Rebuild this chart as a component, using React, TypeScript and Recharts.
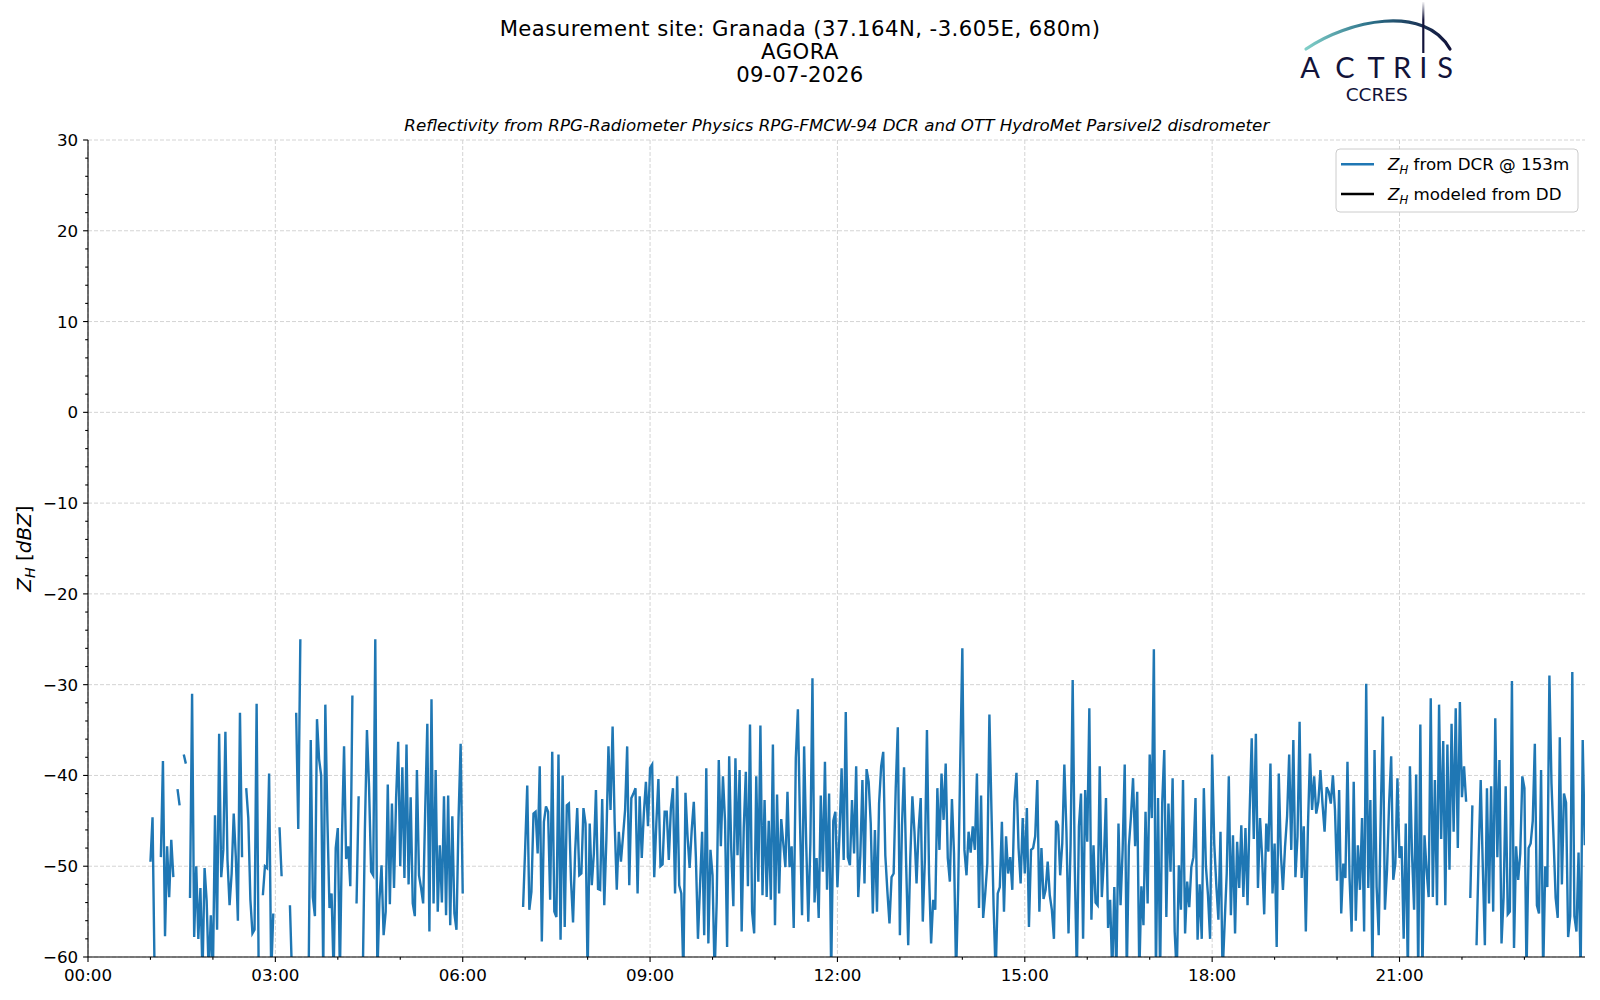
import React from 'react';
import { CartesianGrid, Line, LineChart, XAxis, YAxis } from 'recharts';

// Z_H from the DCR, 2-minute steps, one array per hour (null = no data, -62 = below the axis)
const zh01 = [-49.5, -44.6, -62, null, null, -49, -38.4, -57.7, -47.8, -53.4, -47.1, -51.2, null, -41.5, -43.3, null, -37.7, -38.7, null, -53.5, -31, -57.8, -50, -58, -52.4, -62, -50.2, -53.8, -62, -55.4];
const zh02 = [-62, -44.4, -57, -35.4, -51.2, -48.2, -35.2, -49.3, -54.3, -50.8, -44.2, -49, -56, -33.1, -49, null, -41.4, -44.7, -53.7, -57.4, -57, -32.1, -62, null, -53.2, -50, -50.2, -39.8, -62, -55.2];
const zh03 = [null, null, -45.7, -51.1, null, null, null, -54.3, -62, null, -33.1, -45.9, -25, null, null, null, -62, -36.1, -53.4, -55.5, -33.8, -38.2, -40, -62, -32.2, -44.9, -54.6, -53, -62, -48];
const zh04 = [-45.8, -62, -46.7, -36.8, -49.2, -47.8, -52.2, -31.2, null, -54.1, -42.3, null, -62, -46, -35, -41.2, -50.6, -51, -25, -62, -53.7, -49.9, -57.6, -55, -41, -54.2, -43.1, -52.4, -42.5, -36.3];
const zh05 = [-50, -39.1, -51.3, -36.6, -52, -42.4, -54.1, -55.5, -39.4, -51, -52.4, -54.1, -43.6, -34.3, -57.2, -31.6, -54.1, -39.4, -55, -47.7, -54, -42.3, -55.4, -42.2, -56.5, -44.5, -55.2, -57, -44.7, -36.5];
const zh06 = [-53, null, null, null, null, null, null, null, null, null, null, null, null, null, null, null, null, null, null, null, null, null, null, null, null, null, null, null, null, -54.5];
const zh07 = [-48, -41.1, -54.8, -52.8, -44.2, -44, -48.6, -39, -58.3, -45.1, -43.4, -44, -53.7, -37.4, -55, -55.6, -37.7, -58.1, -40, -56.7, -43.3, -43.1, -51.5, -56.2, -48.4, -43.6, -51, -50.8, -43.6, -45.3];
const zh08 = [-62, -45.3, -52.1, -48.6, -41.6, -52.5, -52.6, -42.6, -54.3, -47.1, -36.8, -43.8, -34.6, -45.3, -52.6, -46.2, -49.5, -46.7, -43.8, -36.8, -52.1, -42.5, -42, -41.4, -53, -42.3, -49.1, -44.2, -40.7, -45.6];
const zh09 = [-39.2, -38.8, -51.2, -45.3, -40.4, -50, -49.8, -44, -44, -49.3, -43.6, -41.4, -53, -40.1, -52.1, -53, -62, -41.9, -46.7, -50.2, -46, -42.9, -49, -58, -52.1, -46.2, -57.6, -39.2, -58.5, -48.2];
const zh10 = [-51, -62, -53.9, -38.3, -47.8, -40.1, -45, -58.9, -37.9, -48.2, -54.4, -38.1, -48.8, -39.4, -57.2, -45.8, -39.6, -52.2, -34.4, -55, -57.4, -40.1, -51.7, -34.5, -53.2, -42.7, -53.4, -45, -53.7, -36.6];
const zh11 = [-56.5, -42.1, -53, -44.8, -47.5, -50.1, -41.8, -50.1, -47.8, -56.8, -38.1, -32.7, -45, -55.4, -36.8, -47.5, -56.1, -47.5, -29.3, -54, -49.1, -55.7, -42.2, -50.6, -38.5, -52.6, -42, -62, -45, -44];
const zh12 = [-52.3, -46.4, -39.2, -49.3, -33, -49, -49.9, -42.7, -48.6, -39, -53.4, -48.8, -40.5, -51.9, -39.3, -40.7, -45.3, -55.2, -46, -55, -43.1, -39, -37.4, -48.8, -52.8, -56.3, -51.2, -50.8, -41.4, -34.7];
const zh13 = [-57.6, -45.6, -39.1, -49.7, -58.7, -49.1, -42.3, -46.2, -51.9, -46, -42.5, -56.1, -49.3, -35, -50.8, -58.5, -53.7, -54.8, -41.4, -48.2, -39.8, -44.9, -38.7, -49.1, -51.7, -42.6, -48.6, -62, -52.4, -38.5];
const zh14 = [-26, -48.2, -51, -46.2, -48.5, -45.6, -48.2, -39.8, -54.6, -42.2, -55.7, -53, -49.7, -33.3, -44, -54.3, -62, -53, -52.3, -45.1, -55, -46.7, -50.8, -49, -52.6, -42.9, -39.7, -48, -51.9, -44.7];
const zh15 = [-50.8, -43.6, -56.7, -48.2, -48, -46.7, -40.5, -55, -48, -53.6, -52.6, -49.5, -53.2, -54.8, -58, -45, -45.5, -51, -47.5, -38.8, -46.2, -57.4, -47.6, -29.5, -50, -62, -45.6, -42, -58, -41.6];
const zh16 = [-47.3, -32.6, -55.9, -47.7, -54, -54.3, -39, -53.4, -49.3, -42.5, -56.8, -53.7, -62, -52.3, -62, -45.3, -54.3, -48.2, -38.8, -62, -47.8, -44.5, -40.3, -47.8, -41.8, -62, -52.2, -56.5, -44, -54.1];
const zh17 = [-37.7, -44.7, -26.1, -62, -42.5, -62, -43.1, -37.2, -55.6, -43.1, -50.6, -40.3, -57.2, -62, -49.9, -54.8, -40.5, -57.4, -51.7, -54.5, -50.1, -49, -42.5, -58.1, -52, -58, -41.4, -50, -53.2, -58];
const zh18 = [-37.7, -47.5, -52.1, -55.9, -46.2, -62, -56.3, -50.8, -40.1, -55.4, -46.6, -57.4, -47.3, -52.4, -45.5, -53.4, -45.8, -54.3, -44, -35.9, -47, -35.4, -52.4, -44.7, -49, -55.3, -45.3, -48.4, -38.7, -53];
const zh19 = [-47.5, -58.9, -39.8, -48.6, -52.6, -47.9, -44.5, -37.7, -48.2, -36.1, -51.2, -46.7, -34.1, -51.3, -45.6, -57.2, -45.8, -37.6, -43.8, -40.1, -44.2, -42.9, -39.4, -43.1, -46.2, -41.3, -41.8, -43.1, -40, -43.8];
const zh20 = [-51.6, -41.6, -55.2, -49.7, -51.3, -38.5, -51.3, -57.2, -40.7, -56, -47.7, -52.6, -44.7, -57.2, -29.9, -52.4, -42.7, -62, -37.2, -52.3, -57.6, -44.2, -33.5, -54.8, -50.4, -43.1, -37.9, -51.5, -49.7, -40.3];
const zh21 = [-49.1, -47.8, -58, -45.3, -62, -39, -48.6, -54.8, -39.9, -62, -34.4, -62, -46.6, -50.4, -53.4, -31.5, -53.4, -40.5, -54.3, -32.2, -47, -36.2, -54.3, -36.6, -50.4, -34.3, -46.2, -32.6, -48, -31.9];
const zh22 = [-42.4, -39, -42.9, null, -53.5, -43.3, null, -58.7, -49, -40.5, -50, -58.7, -41.4, -54.1, -41.2, -55, -33.7, -49, -38.3, -58.5, -53.4, -41.2, -55.3, -55, -29.6, -59, -47.8, -51.5, -48.6, -40.1];
const zh23 = [-41.4, -62, -48, -47.5, -45, -36.5, -54.3, -55.2, -39.4, -62, -50, -52.3, -29, -40.9, -47, -53.5, -55.7, -35.8, -52, -42, -43, -57.8, -55.5, -28.6, -55.5, -57.2, -48.5, -62, -36.1, -47.7];

const hourBlocks: [number, (number | null)[]][] = [
  [1, zh01], [2, zh02], [3, zh03], [4, zh04], [5, zh05], [6, zh06], [7, zh07], [8, zh08],
  [9, zh09], [10, zh10], [11, zh11], [12, zh12], [13, zh13], [14, zh14], [15, zh15], [16, zh16],
  [17, zh17], [18, zh18], [19, zh19], [20, zh20], [21, zh21], [22, zh22], [23, zh23],
];

const hourTicks = [0, 1, 2, 3, 4, 5, 6, 7, 8, 9, 10, 11, 12, 13, 14, 15, 16, 17, 18, 19, 20, 21, 22, 23];
const xMajor = [0, 3, 6, 9, 12, 15, 18, 21];
const yTicks = [
  -60, -58, -56, -54, -52, -50, -48, -46, -44, -42, -40, -38, -36, -34, -32, -30, -28, -26, -24, -22,
  -20, -18, -16, -14, -12, -10, -8, -6, -4, -2, 0, 2, 4, 6, 8, 10, 12, 14, 16, 18, 20, 22, 24, 26, 28, 30,
];
const yMajor = [-60, -50, -40, -30, -20, -10, 0, 10, 20, 30];

const titleLines = ['Measurement site: Granada (37.164N, -3.605E, 680m)', 'AGORA', '09-07-2026'];

const legendItems = [
  { color: '#1f77b4', label: ' from DCR @ 153m' },
  { color: '#000000', label: ' modeled from DD' },
];

const rows = hourBlocks.flatMap(([h, vals]) =>
  vals.map((v, i) => ({ t: h + i / 30, dcr: v }))
);

const FONT = '"DejaVu Sans", sans-serif';
const NAVY = '#12133a';

const XTick = ({ x, y, payload }: any) => {
  const h = payload.value;
  const major = h % 3 === 0;
  return (
    <g>
      <line x1={x} x2={x} y1={y} y2={y + (major ? 4.9 : 2.8)} stroke="#000" strokeWidth={1.1} />
      {major && (
        <text x={x} y={y + 24} textAnchor="middle" fontFamily={FONT} fontSize={16.7} fill="#000">
          {String(h).padStart(2, '0') + ':00'}
        </text>
      )}
    </g>
  );
};

const YTick = ({ x, y, payload }: any) => {
  const v = payload.value;
  const major = v % 10 === 0;
  return (
    <g>
      <line x1={x} x2={x - (major ? 4.9 : 2.8)} y1={y} y2={y} stroke="#000" strokeWidth={1.1} />
      {major && (
        <text x={x - 9.8} y={y + 6} textAnchor="end" fontFamily={FONT} fontSize={16.7} fill="#000">
          {v < 0 ? '\u2212' + Math.abs(v) : String(v)}
        </text>
      )}
    </g>
  );
};

function Overlay() {
  return (
    <svg width={1600} height={1000} style={{ position: 'absolute', left: 0, top: 0, pointerEvents: 'none' }}>
      <defs>
        <linearGradient id="arcGrad" gradientUnits="userSpaceOnUse" x1="1306" y1="0" x2="1450" y2="0">
          <stop offset="0" stopColor="#80cfc8" />
          <stop offset="0.45" stopColor="#2b6f88" />
          <stop offset="1" stopColor={NAVY} />
        </linearGradient>
        <linearGradient id="poleGrad" gradientUnits="userSpaceOnUse" x1="0" y1="2" x2="0" y2="53">
          <stop offset="0" stopColor={NAVY} stopOpacity={0.05} />
          <stop offset="0.35" stopColor={NAVY} stopOpacity={1} />
          <stop offset="1" stopColor={NAVY} stopOpacity={1} />
        </linearGradient>
      </defs>

      <g fontFamily={FONT} fill="#000" textAnchor="middle">
        {titleLines.map((line, i) => (
          <text key={line} x={800} y={35.5 + i * 23} fontSize={21.2} letterSpacing={0.45}>
            {line}
          </text>
        ))}
        <text x={836.8} y={131} fontSize={16.7} fontStyle="italic">
          Reflectivity from RPG-Radiometer Physics RPG-FMCW-94 DCR and OTT HydroMet Parsivel2 disdrometer
        </text>
      </g>

      <text
        transform="translate(31,548.5) rotate(-90)"
        textAnchor="middle"
        fontFamily={FONT}
        fontSize={20}
        fill="#000"
      >
        <tspan fontStyle="italic">Z</tspan>
        <tspan fontStyle="italic" fontSize={14} dy={4}>H</tspan>
        <tspan dy={-4}> [</tspan>
        <tspan fontStyle="italic">dBZ</tspan>
        <tspan>]</tspan>
      </text>

      {/* legend */}
      <rect x={1336} y={149} width={242} height={63} rx={4} fill="#fff" fillOpacity={0.8} stroke="#cccccc" strokeWidth={1} />
      {legendItems.map((item, i) => {
        const cy = 164.3 + i * 29.7;
        return (
          <g key={item.label}>
            <line x1={1341} x2={1374} y1={cy} y2={cy} stroke={item.color} strokeWidth={2.4} />
            <text x={1388} y={cy + 6} fontFamily={FONT} fontSize={16.7} fill="#000">
              <tspan fontStyle="italic">Z</tspan>
              <tspan fontStyle="italic" fontSize={11.7} dy={3.5}>H</tspan>
              <tspan dy={-3.5}>{item.label}</tspan>
            </text>
          </g>
        );
      })}

      {/* ACTRIS CCRES logo */}
      <path d="M1306,49 C1348,20 1425,4 1450,49" fill="none" stroke="url(#arcGrad)" strokeWidth={3.2} strokeLinecap="round" />
      <line x1={1423.3} x2={1423.3} y1={2} y2={53} stroke="url(#poleGrad)" strokeWidth={2.2} />
      <g fontFamily='Lato, "Open Sans", sans-serif' fontSize={29} fill={NAVY} textAnchor="middle">
        <text x={1310} y={78}>A</text>
        <text x={1345} y={78}>C</text>
        <text x={1376} y={78}>T</text>
        <text x={1402} y={78}>R</text>
        <text x={1423.3} y={78}>I</text>
        <text x={1445} y={78}>S</text>
      </g>
      <text x={1376.7} y={101} fontFamily={FONT} fontSize={18.5} fill={NAVY} textAnchor="middle">
        CCRES
      </text>
    </svg>
  );
}

export default function App() {
  return (
    <div style={{ position: 'absolute', left: 0, top: 0, width: 1600, height: 1000, background: '#fff' }}>
      <LineChart width={1600} height={1000} data={rows} margin={{ top: 140, right: 15, bottom: 13, left: 28 }}>
        <CartesianGrid
          stroke="#d4d4d4"
          strokeDasharray="4 2"
          horizontalValues={yMajor}
          verticalValues={xMajor}
        />
        <XAxis
          dataKey="t"
          type="number"
          domain={[0, 23.97]}
          allowDataOverflow
          ticks={hourTicks}
          interval={0}
          tick={<XTick />}
          tickLine={false}
          tickSize={0}
          tickMargin={0}
          height={30}
          axisLine={{ stroke: '#000', strokeWidth: 1.1 }}
        />
        <XAxis
          xAxisId="top"
          orientation="top"
          type="number"
          domain={[0, 23.97]}
          height={0}
          tick={false}
          tickLine={false}
          axisLine={{ stroke: '#000', strokeWidth: 1.1 }}
        />
        <YAxis
          type="number"
          domain={[-60, 30]}
          allowDataOverflow
          ticks={yTicks}
          interval={0}
          tick={<YTick />}
          tickLine={false}
          tickSize={0}
          tickMargin={0}
          width={60}
          axisLine={{ stroke: '#000', strokeWidth: 1.1 }}
        />
        <YAxis
          yAxisId="right"
          orientation="right"
          type="number"
          domain={[-60, 30]}
          width={0}
          tick={false}
          tickLine={false}
          axisLine={{ stroke: '#000', strokeWidth: 1.1 }}
        />
        <Line
          type="linear"
          dataKey="dcr"
          name="Z_H from DCR @ 153m"
          stroke="#1f77b4"
          strokeWidth={2.4}
          dot={false}
          activeDot={false}
          connectNulls={false}
          isAnimationActive={false}
        />
        <Line
          type="linear"
          dataKey="dd"
          name="Z_H modeled from DD"
          stroke="#000"
          strokeWidth={2.4}
          dot={false}
          activeDot={false}
          isAnimationActive={false}
        />
      </LineChart>
      <Overlay />
    </div>
  );
}
